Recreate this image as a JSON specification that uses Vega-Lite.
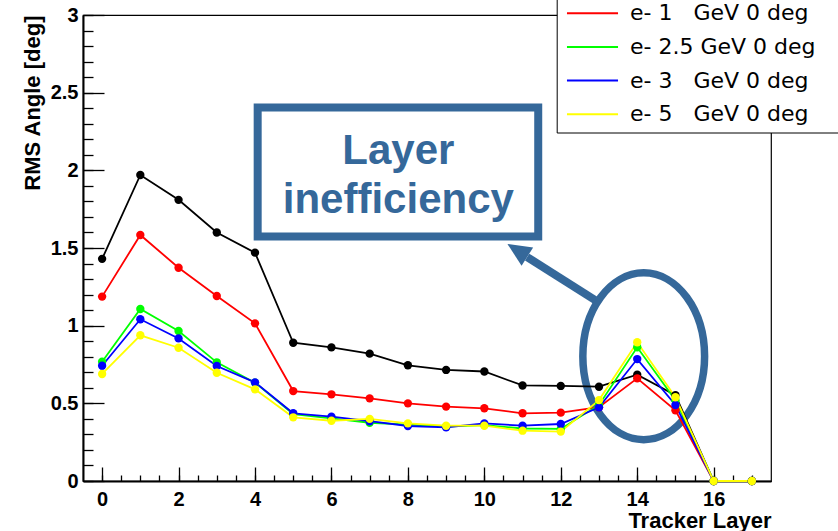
{
  "$schema": "https://vega.github.io/schema/vega-lite/v6.json",
  "width": 688,
  "height": 466,
  "autosize": {"type": "none"},
  "padding": {"left": 83, "top": 15, "right": 67, "bottom": 50},
  "background": "white",
  "config": {
    "view": {"stroke": "black", "strokeWidth": 1.2},
    "axis": {
      "grid": false,
      "domainColor": "black",
      "domainWidth": 2,
      "tickColor": "black",
      "tickWidth": 1.3,
      "labelColor": "black",
      "titleColor": "black",
      "labelFont": "Liberation Sans",
      "labelFontWeight": "bold",
      "labelFontSize": 20,
      "titleFont": "Liberation Sans",
      "titleFontWeight": "bold",
      "titleFontSize": 22,
      "labelFlush": false,
      "labelOverlap": false
    }
  },
  "datasets": {
    "rms": [
      {"series": "e- 0.5 GeV 0 deg", "layer": 0, "rms": 1.43},
      {"series": "e- 0.5 GeV 0 deg", "layer": 1, "rms": 1.97},
      {"series": "e- 0.5 GeV 0 deg", "layer": 2, "rms": 1.81},
      {"series": "e- 0.5 GeV 0 deg", "layer": 3, "rms": 1.60},
      {"series": "e- 0.5 GeV 0 deg", "layer": 4, "rms": 1.47},
      {"series": "e- 0.5 GeV 0 deg", "layer": 5, "rms": 0.89},
      {"series": "e- 0.5 GeV 0 deg", "layer": 6, "rms": 0.86},
      {"series": "e- 0.5 GeV 0 deg", "layer": 7, "rms": 0.82},
      {"series": "e- 0.5 GeV 0 deg", "layer": 8, "rms": 0.745},
      {"series": "e- 0.5 GeV 0 deg", "layer": 9, "rms": 0.715},
      {"series": "e- 0.5 GeV 0 deg", "layer": 10, "rms": 0.705},
      {"series": "e- 0.5 GeV 0 deg", "layer": 11, "rms": 0.615},
      {"series": "e- 0.5 GeV 0 deg", "layer": 12, "rms": 0.612},
      {"series": "e- 0.5 GeV 0 deg", "layer": 13, "rms": 0.607},
      {"series": "e- 0.5 GeV 0 deg", "layer": 14, "rms": 0.684},
      {"series": "e- 0.5 GeV 0 deg", "layer": 15, "rms": 0.553},
      {"series": "e- 0.5 GeV 0 deg", "layer": 16, "rms": 0},
      {"series": "e- 0.5 GeV 0 deg", "layer": 17, "rms": 0},
      {"series": "e- 1\u00a0\u00a0\u00a0GeV 0 deg", "layer": 0, "rms": 1.187},
      {"series": "e- 1\u00a0\u00a0\u00a0GeV 0 deg", "layer": 1, "rms": 1.584},
      {"series": "e- 1\u00a0\u00a0\u00a0GeV 0 deg", "layer": 2, "rms": 1.373},
      {"series": "e- 1\u00a0\u00a0\u00a0GeV 0 deg", "layer": 3, "rms": 1.191},
      {"series": "e- 1\u00a0\u00a0\u00a0GeV 0 deg", "layer": 4, "rms": 1.015},
      {"series": "e- 1\u00a0\u00a0\u00a0GeV 0 deg", "layer": 5, "rms": 0.579},
      {"series": "e- 1\u00a0\u00a0\u00a0GeV 0 deg", "layer": 6, "rms": 0.558},
      {"series": "e- 1\u00a0\u00a0\u00a0GeV 0 deg", "layer": 7, "rms": 0.532},
      {"series": "e- 1\u00a0\u00a0\u00a0GeV 0 deg", "layer": 8, "rms": 0.50},
      {"series": "e- 1\u00a0\u00a0\u00a0GeV 0 deg", "layer": 9, "rms": 0.479},
      {"series": "e- 1\u00a0\u00a0\u00a0GeV 0 deg", "layer": 10, "rms": 0.468},
      {"series": "e- 1\u00a0\u00a0\u00a0GeV 0 deg", "layer": 11, "rms": 0.436},
      {"series": "e- 1\u00a0\u00a0\u00a0GeV 0 deg", "layer": 12, "rms": 0.44},
      {"series": "e- 1\u00a0\u00a0\u00a0GeV 0 deg", "layer": 13, "rms": 0.475},
      {"series": "e- 1\u00a0\u00a0\u00a0GeV 0 deg", "layer": 14, "rms": 0.661},
      {"series": "e- 1\u00a0\u00a0\u00a0GeV 0 deg", "layer": 15, "rms": 0.455},
      {"series": "e- 1\u00a0\u00a0\u00a0GeV 0 deg", "layer": 16, "rms": 0},
      {"series": "e- 1\u00a0\u00a0\u00a0GeV 0 deg", "layer": 17, "rms": 0},
      {"series": "e- 2.5 GeV 0 deg", "layer": 0, "rms": 0.768},
      {"series": "e- 2.5 GeV 0 deg", "layer": 1, "rms": 1.107},
      {"series": "e- 2.5 GeV 0 deg", "layer": 2, "rms": 0.966},
      {"series": "e- 2.5 GeV 0 deg", "layer": 3, "rms": 0.764},
      {"series": "e- 2.5 GeV 0 deg", "layer": 4, "rms": 0.633},
      {"series": "e- 2.5 GeV 0 deg", "layer": 5, "rms": 0.431},
      {"series": "e- 2.5 GeV 0 deg", "layer": 6, "rms": 0.403},
      {"series": "e- 2.5 GeV 0 deg", "layer": 7, "rms": 0.375},
      {"series": "e- 2.5 GeV 0 deg", "layer": 8, "rms": 0.363},
      {"series": "e- 2.5 GeV 0 deg", "layer": 9, "rms": 0.35},
      {"series": "e- 2.5 GeV 0 deg", "layer": 10, "rms": 0.36},
      {"series": "e- 2.5 GeV 0 deg", "layer": 11, "rms": 0.338},
      {"series": "e- 2.5 GeV 0 deg", "layer": 12, "rms": 0.335},
      {"series": "e- 2.5 GeV 0 deg", "layer": 13, "rms": 0.49},
      {"series": "e- 2.5 GeV 0 deg", "layer": 14, "rms": 0.861},
      {"series": "e- 2.5 GeV 0 deg", "layer": 15, "rms": 0.52},
      {"series": "e- 2.5 GeV 0 deg", "layer": 16, "rms": 0},
      {"series": "e- 2.5 GeV 0 deg", "layer": 17, "rms": 0},
      {"series": "e- 3\u00a0\u00a0\u00a0GeV 0 deg", "layer": 0, "rms": 0.742},
      {"series": "e- 3\u00a0\u00a0\u00a0GeV 0 deg", "layer": 1, "rms": 1.041},
      {"series": "e- 3\u00a0\u00a0\u00a0GeV 0 deg", "layer": 2, "rms": 0.918},
      {"series": "e- 3\u00a0\u00a0\u00a0GeV 0 deg", "layer": 3, "rms": 0.74},
      {"series": "e- 3\u00a0\u00a0\u00a0GeV 0 deg", "layer": 4, "rms": 0.635},
      {"series": "e- 3\u00a0\u00a0\u00a0GeV 0 deg", "layer": 5, "rms": 0.436},
      {"series": "e- 3\u00a0\u00a0\u00a0GeV 0 deg", "layer": 6, "rms": 0.414},
      {"series": "e- 3\u00a0\u00a0\u00a0GeV 0 deg", "layer": 7, "rms": 0.385},
      {"series": "e- 3\u00a0\u00a0\u00a0GeV 0 deg", "layer": 8, "rms": 0.354},
      {"series": "e- 3\u00a0\u00a0\u00a0GeV 0 deg", "layer": 9, "rms": 0.345},
      {"series": "e- 3\u00a0\u00a0\u00a0GeV 0 deg", "layer": 10, "rms": 0.371},
      {"series": "e- 3\u00a0\u00a0\u00a0GeV 0 deg", "layer": 11, "rms": 0.356},
      {"series": "e- 3\u00a0\u00a0\u00a0GeV 0 deg", "layer": 12, "rms": 0.367},
      {"series": "e- 3\u00a0\u00a0\u00a0GeV 0 deg", "layer": 13, "rms": 0.474},
      {"series": "e- 3\u00a0\u00a0\u00a0GeV 0 deg", "layer": 14, "rms": 0.785},
      {"series": "e- 3\u00a0\u00a0\u00a0GeV 0 deg", "layer": 15, "rms": 0.489},
      {"series": "e- 3\u00a0\u00a0\u00a0GeV 0 deg", "layer": 16, "rms": 0},
      {"series": "e- 3\u00a0\u00a0\u00a0GeV 0 deg", "layer": 17, "rms": 0},
      {"series": "e- 5\u00a0\u00a0\u00a0GeV 0 deg", "layer": 0, "rms": 0.689},
      {"series": "e- 5\u00a0\u00a0\u00a0GeV 0 deg", "layer": 1, "rms": 0.938},
      {"series": "e- 5\u00a0\u00a0\u00a0GeV 0 deg", "layer": 2, "rms": 0.858},
      {"series": "e- 5\u00a0\u00a0\u00a0GeV 0 deg", "layer": 3, "rms": 0.697},
      {"series": "e- 5\u00a0\u00a0\u00a0GeV 0 deg", "layer": 4, "rms": 0.59},
      {"series": "e- 5\u00a0\u00a0\u00a0GeV 0 deg", "layer": 5, "rms": 0.41},
      {"series": "e- 5\u00a0\u00a0\u00a0GeV 0 deg", "layer": 6, "rms": 0.388},
      {"series": "e- 5\u00a0\u00a0\u00a0GeV 0 deg", "layer": 7, "rms": 0.40},
      {"series": "e- 5\u00a0\u00a0\u00a0GeV 0 deg", "layer": 8, "rms": 0.371},
      {"series": "e- 5\u00a0\u00a0\u00a0GeV 0 deg", "layer": 9, "rms": 0.356},
      {"series": "e- 5\u00a0\u00a0\u00a0GeV 0 deg", "layer": 10, "rms": 0.356},
      {"series": "e- 5\u00a0\u00a0\u00a0GeV 0 deg", "layer": 11, "rms": 0.324},
      {"series": "e- 5\u00a0\u00a0\u00a0GeV 0 deg", "layer": 12, "rms": 0.318},
      {"series": "e- 5\u00a0\u00a0\u00a0GeV 0 deg", "layer": 13, "rms": 0.521},
      {"series": "e- 5\u00a0\u00a0\u00a0GeV 0 deg", "layer": 14, "rms": 0.893},
      {"series": "e- 5\u00a0\u00a0\u00a0GeV 0 deg", "layer": 15, "rms": 0.539},
      {"series": "e- 5\u00a0\u00a0\u00a0GeV 0 deg", "layer": 16, "rms": 0},
      {"series": "e- 5\u00a0\u00a0\u00a0GeV 0 deg", "layer": 17, "rms": 0}
    ]
  },
  "layer": [
    {
      "data": {"values": [{"x": 14.17, "y": 0.803}]},
      "mark": {"type": "point", "shape": "M -0.730 0 A 0.730 1 0 1 0 0.730 0 A 0.730 1 0 1 0 -0.730 0 Z", "size": 27822, "filled": false, "strokeWidth": 7.5, "color": "#35689a", "opacity": 1},
      "encoding": {
        "x": {"field": "x", "type": "quantitative", "scale": {"domain": [-0.5, 17.5], "nice": false, "zero": false}, "axis": null},
        "y": {"field": "y", "type": "quantitative", "scale": {"domain": [0, 3], "nice": false, "zero": false}, "axis": null}
      }
    },
    {
      "data": {"values": [{"x": 4.07, "x2": 11.41, "y": 2.405, "y2": 1.574}]},
      "mark": {"type": "rect", "filled": false, "strokeWidth": 8, "color": "#35689a", "opacity": 1},
      "encoding": {
        "x": {"field": "x", "type": "quantitative", "scale": {"domain": [-0.5, 17.5], "nice": false, "zero": false},
              "axis": {"orient": "bottom", "values": [0, 2, 4, 6, 8, 10, 12, 14, 16], "labels": false, "domain": false, "tickSize": -14, "title": null}},
        "x2": {"field": "x2"},
        "y": {"field": "y", "type": "quantitative", "scale": {"domain": [0, 3], "nice": false, "zero": false},
              "axis": {"orient": "left", "values": [0, 0.5, 1, 1.5, 2, 2.5, 3], "labels": false, "domain": false, "tickSize": -21, "title": null}},
        "y2": {"field": "y2"}
      }
    },
    {
      "data": {"name": "rms"},
      "mark": {"type": "line", "strokeWidth": 1.8},
      "encoding": {
        "x": {"field": "layer", "type": "quantitative", "scale": {"domain": [-0.5, 17.5], "nice": false, "zero": false},
              "axis": {"orient": "bottom", "values": [0, 2, 4, 6, 8, 10, 12, 14, 16], "format": "d", "ticks": false, "domain": true, "labelPadding": 8,
                       "title": "Tracker Layer", "titleX": 688, "titleY": 46, "titleAlign": "right", "titleBaseline": "alphabetic", "titleAnchor": "end"}},
        "y": {"field": "rms", "type": "quantitative", "scale": {"domain": [0, 3], "nice": false, "zero": false},
              "axis": {"orient": "left", "values": [0, 0.5, 1, 1.5, 2, 2.5, 3], "format": "~g", "ticks": false, "domain": true, "labelPadding": 5,
                       "title": "RMS Angle [deg]", "titleX": -44, "titleY": 0, "titleAlign": "right", "titleBaseline": "alphabetic", "titleAngle": -90, "titleAnchor": "end"}},
        "color": {
          "field": "series", "type": "nominal",
          "scale": {
            "domain": ["e- 0.5 GeV 0 deg", "e- 1\u00a0\u00a0\u00a0GeV 0 deg", "e- 2.5 GeV 0 deg", "e- 3\u00a0\u00a0\u00a0GeV 0 deg", "e- 5\u00a0\u00a0\u00a0GeV 0 deg"],
            "range": ["#000000", "#ff0000", "#00ff00", "#0000ff", "#ffff00"]
          },
          "legend": {
            "orient": "none", "legendX": 473.7, "legendY": -53.5,
            "title": "\u00a0", "titleOrient": "right", "titlePadding": 20,
            "fillColor": "white", "strokeColor": "black", "padding": 7,
            "symbolType": "M -4 0 L 4 0", "symbolSize": 163, "symbolStrokeWidth": 2, "symbolOffset": 17.8,
            "labelFont": "DejaVu Sans", "labelFontSize": 22, "labelColor": "black", "labelOffset": 26.5, "labelLimit": 400,
            "rowPadding": 11.7
          }
        },
        "order": {"field": "layer", "type": "quantitative"}
      }
    },
    {
      "data": {"name": "rms"},
      "mark": {"type": "point", "filled": true, "size": 70, "opacity": 1},
      "encoding": {
        "x": {"field": "layer", "type": "quantitative", "scale": {"domain": [-0.5, 17.5], "nice": false, "zero": false},
              "axis": {"orient": "bottom", "values": [0, 0.5, 1, 1.5, 2, 2.5, 3, 3.5, 4, 4.5, 5, 5.5, 6, 6.5, 7, 7.5, 8, 8.5, 9, 9.5, 10, 10.5, 11, 11.5, 12, 12.5, 13, 13.5, 14, 14.5, 15, 15.5, 16, 16.5, 17], "labels": false, "domain": false, "tickSize": -6, "title": null}},
        "y": {"field": "rms", "type": "quantitative", "scale": {"domain": [0, 3], "nice": false, "zero": false},
              "axis": {"orient": "left", "values": [0, 0.1, 0.2, 0.3, 0.4, 0.5, 0.6, 0.7, 0.8, 0.9, 1, 1.1, 1.2, 1.3, 1.4, 1.5, 1.6, 1.7, 1.8, 1.9, 2, 2.1, 2.2, 2.3, 2.4, 2.5, 2.6, 2.7, 2.8, 2.9, 3], "labels": false, "domain": false, "tickSize": -10, "title": null}},
        "color": {"field": "series", "type": "nominal"}
      }
    },
    {
      "data": {"values": [{"label": "Layer", "x": 7.75, "y": 2.041}, {"label": "inefficiency", "x": 7.75, "y": 1.723}]},
      "mark": {"type": "text", "font": "Liberation Sans", "fontWeight": "bold", "fontSize": 42, "color": "#35689a", "align": "center", "baseline": "alphabetic"},
      "encoding": {
        "x": {"field": "x", "type": "quantitative", "scale": {"domain": [-0.5, 17.5], "nice": false, "zero": false}, "axis": null},
        "y": {"field": "y", "type": "quantitative", "scale": {"domain": [0, 3], "nice": false, "zero": false}, "axis": null},
        "text": {"field": "label"}
      }
    },
    {
      "data": {"values": [{"x": 12.9, "y": 1.165, "x2": 11.12, "y2": 1.442}]},
      "mark": {"type": "rule", "strokeWidth": 8, "color": "#35689a", "strokeCap": "butt"},
      "encoding": {
        "x": {"field": "x", "type": "quantitative", "scale": {"domain": [-0.5, 17.5], "nice": false, "zero": false}, "axis": null},
        "y": {"field": "y", "type": "quantitative", "scale": {"domain": [0, 3], "nice": false, "zero": false}, "axis": null},
        "x2": {"field": "x2"},
        "y2": {"field": "y2"}
      }
    },
    {
      "data": {"values": [{"x": 10.865, "y": 1.485}]},
      "mark": {"type": "point", "shape": "M 0 -1 L 0.91 1 L -0.91 1 Z", "size": 557, "angle": 302.5, "filled": true, "color": "#35689a", "opacity": 1},
      "encoding": {
        "x": {"field": "x", "type": "quantitative", "scale": {"domain": [-0.5, 17.5], "nice": false, "zero": false}, "axis": null},
        "y": {"field": "y", "type": "quantitative", "scale": {"domain": [0, 3], "nice": false, "zero": false}, "axis": null}
      }
    }
  ],
  "resolve": {"axis": {"x": "independent", "y": "independent"}}
}
